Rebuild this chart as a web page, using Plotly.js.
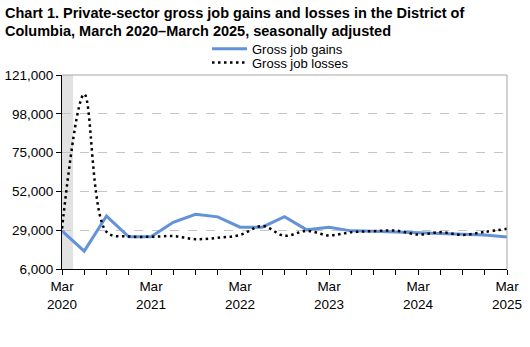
<!DOCTYPE html>
<html>
<head>
<meta charset="utf-8">
<script src="https://cdn.plot.ly/plotly-3.0.1.min.js"></script>
<style>
html,body{margin:0;padding:0;background:#fff;}
#chart{width:530px;height:347px;}
</style>
</head>
<body>
<div id="chart"></div>
<script>
const quarters = ['Mar 2020','Jun 2020','Sep 2020','Dec 2020','Mar 2021','Jun 2021','Sep 2021','Dec 2021',
  'Mar 2022','Jun 2022','Sep 2022','Dec 2022','Mar 2023','Jun 2023','Sep 2023','Dec 2023',
  'Mar 2024','Jun 2024','Sep 2024','Dec 2024','Mar 2025'];
const gains = [28600,16600,37400,25100,25100,33700,38400,36900,30800,30800,37000,29200,
  30800,28600,28400,27800,27400,27000,26600,26200,24900];
const losses = [30000,109600,28000,25300,25100,25500,23700,24500,26200,31500,25700,28600,
  25900,27800,28400,28800,26400,27800,26200,28000,29800];
const tickLabels = quarters.map(q => q.startsWith('Mar') ? q.replace(' ', '<br>') : '');
const yTicks = [6000,29000,52000,75000,98000,121000];
const recessionStart = 0, recessionEnd = 0.5;

const font = 'Liberation Sans, Arial, sans-serif';
const W = 530, H = 347;

const traces = [
  {x: quarters, y: gains, name: 'Gross job gains', type: 'scatter', mode: 'lines',
   line: {color: 'rgb(98,146,216)', width: 3}, legend: 'legend'},
  {x: quarters, y: losses, name: 'Gross job losses', type: 'scatter', mode: 'lines',
   line: {color: '#000', width: 2.5, dash: '2.5px,3.5px', shape: 'spline', smoothing: 1}, legend: 'legend2'}
];

const legendCommon = {xref: 'container', yref: 'container', xanchor: 'left', yanchor: 'middle',
  font: {family: font, size: 13, color: '#000'}, bgcolor: 'rgba(0,0,0,0)', borderwidth: 0, itemwidth: 35};

const layout = {
  width: W, height: H,
  margin: {l: 62, r: 23, t: 75, b: 78, autoexpand: false},
  paper_bgcolor: '#fff', plot_bgcolor: '#fff',
  font: {family: font, size: 13, color: '#000'},
  title: {text: 'Chart 1. Private-sector gross job gains and losses in the District of<br>Columbia, March 2020–March 2025, seasonally adjusted',
    font: {family: font, size: 14.5, weight: 'bold', color: '#000'},
    xref: 'container', yref: 'container', x: 5/W, xanchor: 'left', y: 1 - 17.5/H, yanchor: 'middle'},
  showlegend: true,
  legend: Object.assign({}, legendCommon, {x: 207/W, y: 1 - 48.7/H}),
  legend2: Object.assign({}, legendCommon, {x: 207/W, y: 1 - 62.5/H}),
  xaxis: {type: 'category', range: [0, quarters.length - 1], tickmode: 'array', tickvals: quarters, ticktext: tickLabels,
    ticks: 'outside', ticklen: 5, tickcolor: '#000', showline: true, linecolor: '#000', linewidth: 1,
    showgrid: false, zeroline: false, tickfont: {family: font, size: 13.5}, fixedrange: true, automargin: false},
  yaxis: {range: [6000, 121000], tickmode: 'array', tickvals: yTicks, tickformat: ',d',
    ticks: 'outside', ticklen: 5, tickcolor: '#000', showline: true, linecolor: '#000', linewidth: 1,
    showgrid: true, gridcolor: '#c4c4c4', griddash: 'dash', gridwidth: 1, zeroline: false,
    tickfont: {family: font, size: 13.5}, fixedrange: true, automargin: false},
  shapes: [
    {type: 'rect', xref: 'x', yref: 'paper', x0: recessionStart, x1: recessionEnd, y0: 0, y1: 1,
     fillcolor: '#e2e2e2', line: {width: 0}, layer: 'below'},
    {type: 'line', xref: 'paper', yref: 'paper', x0: 0, x1: 1, y0: 1, y1: 1, line: {color: '#a6a6a6', width: 1}},
    {type: 'line', xref: 'paper', yref: 'paper', x0: 1, x1: 1, y0: 0, y1: 1, line: {color: '#a6a6a6', width: 1}}
  ],
  annotations: [
    {text: 'Source: U.S. Bureau of Labor Statistics.', xref: 'container', yref: 'container',
     x: 5/W, y: 1 - 325/H, xanchor: 'left', yanchor: 'middle', showarrow: false, font: {family: font, size: 11}},
    {text: 'Note: Shaded area represents National Bureau of Economic Research (NBER) defined recession period.', xref: 'container', yref: 'container',
     x: 5/W, y: 1 - 336/H, xanchor: 'left', yanchor: 'middle', showarrow: false, font: {family: font, size: 11}}
  ]
};

Plotly.newPlot('chart', traces, layout, {displayModeBar: false, staticPlot: true});
</script>
</body>
</html>
